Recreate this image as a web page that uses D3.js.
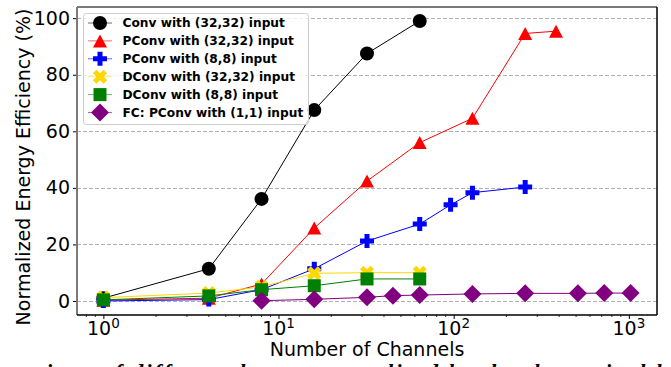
<!DOCTYPE html>
<html>
<head>
<meta charset="utf-8">
<script src="https://cdn.jsdelivr.net/npm/d3@7"></script>
<style>
body { margin: 0; background: #fff; overflow: hidden; }
svg { display: block; font-family: "DejaVu Sans", sans-serif; }
</style>
</head>
<body>
<div class="canvas"></div>
<script>
// values
const convChannels = [1, 4, 8, 16, 32, 64];
const convValues = [1, 11.4, 36.1, 67.5, 87.5, 99];
const pconv32Channels = [1, 4, 8, 16, 32, 64, 128, 256, 384];
const pconv32Values = [0.3, 1, 6, 25.8, 42.4, 56, 64.6, 94.6, 95.4];
const pconv8Channels = [1, 4, 8, 16, 32, 64, 96, 128, 256];
const pconv8Values = [0, 0.5, 4, 11.4, 21.2, 27.2, 34, 38.3, 40.3];
const dconv32Channels = [1, 4, 8, 16, 32, 64];
const dconv32Values = [1.2, 2.8, 5, 9.8, 10, 10];
const dconv8Channels = [1, 4, 8, 16, 32, 64];
const dconv8Values = [0.4, 1.8, 4, 5.4, 7.8, 7.8];
const fcChannels = [8, 16, 32, 45, 64, 128, 256, 512, 724, 1024];
const fcValues = [0.1, 0.6, 1.3, 1.9, 2.1, 2.5, 2.7, 2.7, 2.8, 2.8];

const seriesNames = [
    'Conv with (32,32) input',
    'PConv with (32,32) input',
    'PConv with (8,8) input',
    'DConv with (32,32) input',
    'DConv with (8,8) input',
    'FC: PConv with (1,1) input'
];
const yTicks = [0, 20, 40, 60, 80, 100];
const xTickPowers = [0, 1, 2, 3];

const colors = ['#000000', '#ff0000', '#0000ff', '#ffd700', '#008000', '#800080'];
const markers = ['circle', 'triangle', 'plus', 'x', 'square', 'diamond'];

// marker shapes, centred on 0,0
const markerPath = {
    circle: () => 'M-7,0A7,7 0 1,0 7,0A7,7 0 1,0 -7,0Z',
    triangle: () => 'M0,-6.5L7,6.5L-7,6.5Z',
    square: () => 'M-6.5,-6.5H6.5V6.5H-6.5Z',
    diamond: () => 'M0,-9L9,0L0,9L-9,0Z',
    plus: () => {
        const h = 7, t = 2.5;
        return `M${-t},${-h}H${t}V${-t}H${h}V${t}H${t}V${h}H${-t}V${t}H${-h}V${-t}H${-t}Z`;
    },
    x: () => {
        const h = 7.5, t = 2.5;
        const pts = [[-t, -h], [t, -h], [t, -t], [h, -t], [h, t], [t, t], [t, h], [-t, h], [-t, t], [-h, t], [-h, -t], [-t, -t]];
        const a = Math.PI / 4;
        return 'M' + pts.map(p => [p[0] * Math.cos(a) - p[1] * Math.sin(a), p[0] * Math.sin(a) + p[1] * Math.cos(a)]
            .map(v => v.toFixed(2)).join(',')).join('L') + 'Z';
    }
};

// build the series table from the arrays
const seriesX = [convChannels, pconv32Channels, pconv8Channels, dconv32Channels, dconv8Channels, fcChannels];
const seriesY = [convValues, pconv32Values, pconv8Values, dconv32Values, dconv8Values, fcValues];
const series = seriesNames.map((name, i) => ({
    name: name,
    color: colors[i],
    marker: markers[i],
    points: seriesX[i].map((c, j) => ({ch: c, val: seriesY[i][j]}))
}));

// plot box
const width = 671, height = 367;
const plot = {left: 77, right: 657, top: 7, bottom: 315};

const svg = d3.select('.canvas').append('svg')
    .attr('width', width)
    .attr('height', height);

// scales, with matplotlib-like 5% padding
const x = d3.scaleLog()
    .domain([Math.pow(10, -0.1505), Math.pow(10, 3.1608)])
    .range([plot.left, plot.right]);
const y = d3.scaleLinear()
    .domain([-4.95, 103.95])
    .range([plot.bottom, plot.top]);

// dashed horizontal grid
svg.append('g')
    .selectAll('line')
    .data(yTicks)
    .join('line')
    .attr('x1', plot.left)
    .attr('x2', plot.right)
    .attr('y1', d => Math.round(y(d)) + 0.5)
    .attr('y2', d => Math.round(y(d)) + 0.5)
    .attr('stroke', '#b0b0b0')
    .attr('stroke-width', 1)
    .attr('stroke-dasharray', '4,2');

// data lines and markers
const line = d3.line()
    .x(d => x(d.ch))
    .y(d => y(d.val));

const plotArea = svg.append('g');
series.forEach(s => {
    const g = plotArea.append('g');
    g.append('path')
        .datum(s.points)
        .attr('d', line)
        .attr('fill', 'none')
        .attr('stroke', s.color)
        .attr('stroke-width', 1);
    g.selectAll('path.mk')
        .data(s.points)
        .join('path')
        .attr('class', 'mk')
        .attr('d', markerPath[s.marker]())
        .attr('transform', d => `translate(${x(d.ch)},${y(d.val)})`)
        .attr('fill', s.color);
});

// y axis
const yAxis = d3.axisLeft(y)
    .tickValues(yTicks)
    .tickSize(4)
    .tickPadding(3);
const yAxisGroup = svg.append('g')
    .attr('transform', `translate(${plot.left},0)`)
    .call(yAxis);
yAxisGroup.select('.domain').remove();
yAxisGroup.selectAll('text')
    .attr('font-size', 19)
    .attr('font-family', '"DejaVu Sans", sans-serif')
    .attr('fill', '#000');

// x axis with log minor ticks
const xAxis = d3.axisBottom(x)
    .tickValues(xTickPowers.map(p => Math.pow(10, p)))
    .tickSize(4)
    .tickFormat('');
const xAxisGroup = svg.append('g')
    .attr('transform', `translate(0,${plot.bottom})`)
    .call(xAxis);
xAxisGroup.select('.domain').remove();

const minorTicks = [];
[-1, 0, 1, 2, 3].forEach(p => {
    for (let m = 2; m <= 9; m++) {
        const v = m * Math.pow(10, p);
        if (v >= x.domain()[0] && v <= x.domain()[1]) minorTicks.push(v);
    }
});
svg.append('g')
    .selectAll('line')
    .data(minorTicks)
    .join('line')
    .attr('x1', d => x(d))
    .attr('x2', d => x(d))
    .attr('y1', plot.bottom)
    .attr('y2', plot.bottom + 2)
    .attr('stroke', '#000')
    .attr('stroke-width', 0.8);

// 10^n labels
const xLabels = svg.append('g')
    .selectAll('text')
    .data(xTickPowers)
    .join('text')
    .attr('x', d => x(Math.pow(10, d)))
    .attr('y', 335)
    .attr('text-anchor', 'middle')
    .attr('font-size', 19);
xLabels.append('tspan').text('10');
xLabels.append('tspan')
    .attr('dy', -7)
    .attr('font-size', 13.5)
    .text(d => d);

// spines
svg.append('line').attr('x1', plot.left).attr('x2', plot.left).attr('y1', plot.top).attr('y2', plot.bottom)
    .attr('stroke', '#7a7a7a').attr('stroke-width', 2);
svg.append('line').attr('x1', plot.left).attr('x2', plot.right).attr('y1', plot.top).attr('y2', plot.top)
    .attr('stroke', '#7a7a7a').attr('stroke-width', 2);
svg.append('line').attr('x1', plot.right).attr('x2', plot.right).attr('y1', plot.top).attr('y2', plot.bottom)
    .attr('stroke', '#000').attr('stroke-width', 1.5);
svg.append('line').attr('x1', plot.left).attr('x2', plot.right).attr('y1', plot.bottom).attr('y2', plot.bottom)
    .attr('stroke', '#000').attr('stroke-width', 1.5);

// axis titles
svg.append('text')
    .attr('x', (plot.left + plot.right) / 2)
    .attr('y', 356)
    .attr('text-anchor', 'middle')
    .attr('font-size', 19)
    .text('Number of Channels');

svg.append('text')
    .attr('transform', 'translate(30,167) rotate(-90)')
    .attr('text-anchor', 'middle')
    .attr('font-size', 19)
    .text('Normalized Energy Efficiency (%)');

// legend
const legend = svg.append('g');
legend.append('rect')
    .attr('x', 83.5)
    .attr('y', 13.5)
    .attr('width', 225)
    .attr('height', 111)
    .attr('rx', 3)
    .attr('fill', '#fff')
    .attr('fill-opacity', 0.8)
    .attr('stroke', '#cccccc');

const rows = legend.selectAll('g.row')
    .data(series)
    .join('g')
    .attr('class', 'row')
    .attr('transform', (d, i) => `translate(0,${23 + i * 17.9})`);
rows.append('line')
    .attr('x1', 88)
    .attr('x2', 112)
    .attr('stroke', d => d.color)
    .attr('stroke-opacity', 0.6)
    .attr('stroke-width', 1);
rows.append('path')
    .attr('d', d => markerPath[d.marker]())
    .attr('transform', 'translate(100,0)')
    .attr('fill', d => d.color);
rows.append('text')
    .attr('x', 122.5)
    .attr('y', 4.4)
    .attr('font-size', 12.2)
    .attr('font-weight', 'bold')
    .text(d => d.name);

// caption line cut off by the bottom edge, as in the source image
svg.append('text')
    .attr('x', 35)
    .attr('y', 379)
    .attr('font-family', '"Liberation Serif", serif')
    .attr('font-style', 'italic')
    .attr('font-weight', 'bold')
    .attr('font-size', 22)
    .attr('textLength', 640)
    .attr('lengthAdjust', 'spacing')
    .text('rison of different layers normalized by the theoretical lo');
</script>
</body>
</html>
